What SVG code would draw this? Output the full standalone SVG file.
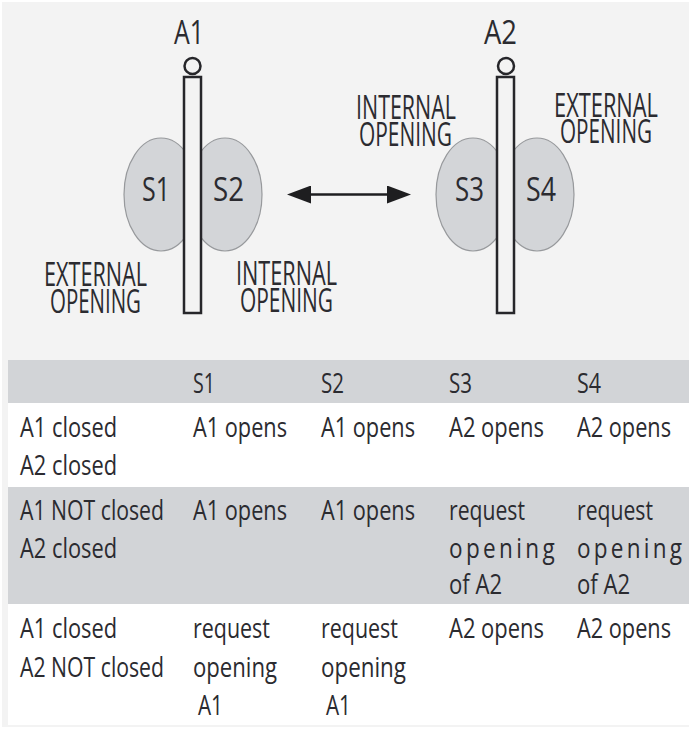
<svg xmlns="http://www.w3.org/2000/svg" width="689" height="729" viewBox="0 0 689 729">
<style>
text{font-family:"Open Sans","Noto Sans","Liberation Sans",sans-serif;fill:#2b2b30}
.d{font-size:32px}
.t{font-size:27.5px}
.bar{fill:#f3f3f3;stroke:#26262a;stroke-width:2.5}
.lobe{fill:#d3d5d8;stroke:#97999c;stroke-width:1.2}
.gr{fill:#d2d4d7}
.wh{fill:#fff}
</style>
<defs>
<marker id="ah" viewBox="0 0 24 18" refX="13" refY="9" markerWidth="24" markerHeight="18" markerUnits="userSpaceOnUse" orient="auto-start-reverse"><path d="M0 0L24 9L0 18z" fill="#1e1e20"/></marker>
</defs>
<rect width="689" height="729" fill="#fff"/>
<rect x="2" y="2" width="687" height="725" fill="#f3f3f3"/>
<g id="table">
<rect class="gr" x="8" y="360" width="681" height="43"/>
<rect class="wh" x="8" y="403" width="681" height="84"/>
<rect class="gr" x="8" y="487" width="681" height="117"/>
<rect class="wh" x="8" y="604" width="681" height="121"/>
<g class="t">
<text x="193" y="393" textLength="22" lengthAdjust="spacingAndGlyphs">S1</text>
<text x="321" y="393" textLength="23" lengthAdjust="spacingAndGlyphs">S2</text>
<text x="449" y="393" textLength="23" lengthAdjust="spacingAndGlyphs">S3</text>
<text x="577" y="393" textLength="24" lengthAdjust="spacingAndGlyphs">S4</text>
<text x="20" y="437" textLength="97" lengthAdjust="spacingAndGlyphs">A1 closed</text>
<text x="20" y="475" textLength="97" lengthAdjust="spacingAndGlyphs">A2 closed</text>
<text x="193" y="437" textLength="94" lengthAdjust="spacingAndGlyphs">A1 opens</text>
<text x="321" y="437" textLength="94" lengthAdjust="spacingAndGlyphs">A1 opens</text>
<text x="449" y="437" textLength="95" lengthAdjust="spacingAndGlyphs">A2 opens</text>
<text x="577" y="437" textLength="94" lengthAdjust="spacingAndGlyphs">A2 opens</text>
<text x="20" y="520" textLength="144" lengthAdjust="spacingAndGlyphs">A1 NOT closed</text>
<text x="20" y="558" textLength="97" lengthAdjust="spacingAndGlyphs">A2 closed</text>
<text x="193" y="520" textLength="94" lengthAdjust="spacingAndGlyphs">A1 opens</text>
<text x="321" y="520" textLength="94" lengthAdjust="spacingAndGlyphs">A1 opens</text>
<text x="449" y="520" textLength="76" lengthAdjust="spacingAndGlyphs">request</text>
<text x="577" y="520" textLength="76" lengthAdjust="spacingAndGlyphs">request</text>
<text transform="translate(449 558) scale(.82 1)" textLength="129" lengthAdjust="spacing">opening</text>
<text transform="translate(577 558) scale(.82 1)" textLength="128" lengthAdjust="spacing">opening</text>
<text x="449" y="594" textLength="53" lengthAdjust="spacingAndGlyphs">of A2</text>
<text x="577" y="594" textLength="53" lengthAdjust="spacingAndGlyphs">of A2</text>
<text x="20" y="638" textLength="97" lengthAdjust="spacingAndGlyphs">A1 closed</text>
<text x="20" y="677" textLength="144" lengthAdjust="spacingAndGlyphs">A2 NOT closed</text>
<text x="193" y="638" textLength="77" lengthAdjust="spacingAndGlyphs">request</text>
<text x="321" y="638" textLength="77" lengthAdjust="spacingAndGlyphs">request</text>
<text x="193" y="677" textLength="84" lengthAdjust="spacingAndGlyphs">opening</text>
<text x="321" y="677" textLength="85" lengthAdjust="spacingAndGlyphs">opening</text>
<text x="198" y="715" textLength="25" lengthAdjust="spacingAndGlyphs">A1</text>
<text x="326" y="715" textLength="25" lengthAdjust="spacingAndGlyphs">A1</text>
<text x="449" y="638" textLength="95" lengthAdjust="spacingAndGlyphs">A2 opens</text>
<text x="577" y="638" textLength="94" lengthAdjust="spacingAndGlyphs">A2 opens</text>
</g>
</g>
<g id="S1"><ellipse class="lobe" cx="161" cy="194.5" rx="37" ry="56.5"/><text class="d" x="142" y="201" textLength="28" lengthAdjust="spacingAndGlyphs">S1</text></g>
<g id="S2"><ellipse class="lobe" cx="225" cy="194.5" rx="37" ry="56.5"/><text class="d" x="213" y="201" textLength="31" lengthAdjust="spacingAndGlyphs">S2</text></g>
<g id="S3"><ellipse class="lobe" cx="473" cy="194.5" rx="37" ry="56.5"/><text class="d" x="455" y="201" textLength="29" lengthAdjust="spacingAndGlyphs">S3</text></g>
<g id="S4"><ellipse class="lobe" cx="537" cy="194.5" rx="37" ry="56.5"/><text class="d" x="526" y="201" textLength="30" lengthAdjust="spacingAndGlyphs">S4</text></g>
<g id="A1"><text class="d" x="174" y="44" textLength="30" lengthAdjust="spacingAndGlyphs">A1</text><circle class="bar" cx="192.5" cy="66" r="8"/><rect class="bar" x="184" y="77" width="17" height="236"/></g>
<g id="A2"><text class="d" x="484" y="44" textLength="33" lengthAdjust="spacingAndGlyphs">A2</text><circle class="bar" cx="506" cy="66" r="8"/><rect class="bar" x="497" y="77" width="17" height="236"/></g>
<g id="label-s1"><text class="d" x="44" y="286" textLength="103" lengthAdjust="spacingAndGlyphs">EXTERNAL</text><text class="d" x="50" y="313" textLength="91" lengthAdjust="spacingAndGlyphs">OPENING</text></g>
<g id="label-s2"><text class="d" x="236" y="285" textLength="101" lengthAdjust="spacingAndGlyphs">INTERNAL</text><text class="d" x="240" y="312" textLength="93" lengthAdjust="spacingAndGlyphs">OPENING</text></g>
<g id="label-s3"><text class="d" x="356" y="119" textLength="100" lengthAdjust="spacingAndGlyphs">INTERNAL</text><text class="d" x="359" y="146" textLength="93" lengthAdjust="spacingAndGlyphs">OPENING</text></g>
<g id="label-s4"><text class="d" x="554" y="117" textLength="104" lengthAdjust="spacingAndGlyphs">EXTERNAL</text><text class="d" x="560" y="143" textLength="92" lengthAdjust="spacingAndGlyphs">OPENING</text></g>
<g id="connectors"><line x1="298" y1="194.5" x2="400" y2="194.5" stroke="#1e1e20" stroke-width="2.5" marker-start="url(#ah)" marker-end="url(#ah)"/></g>
</svg>
